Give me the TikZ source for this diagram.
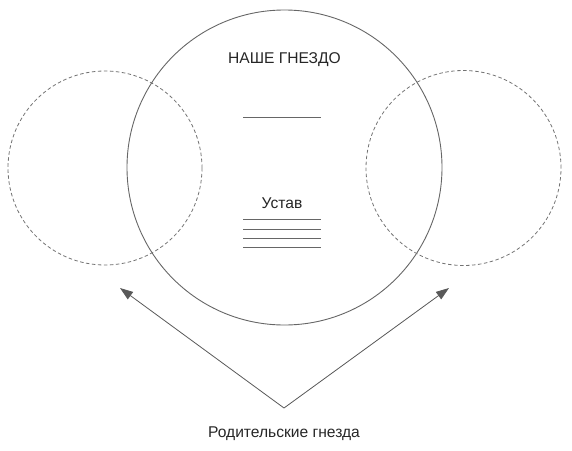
\documentclass[tikz,border=0pt]{standalone}
\usepackage{fontspec}
\setmainfont{Liberation Sans}
\usetikzlibrary{arrows.meta}
\begin{document}
\begin{tikzpicture}[x=1pt,y=-1pt,
  lbl/.style={font=\fontsize{15.6}{18}\selectfont, text=black!85, inner sep=0pt},
  gline/.style={draw=black!60, line width=0.9pt},
  dcirc/.style={draw=black!55, line width=0.8pt, dash pattern=on 3.5pt off 2.5pt},
  arr/.style={draw=black!65, line width=0.8pt, -{Triangle[length=13pt,width=9pt]}}]
\useasboundingbox (0,0) rectangle (572,450);
\node[circle, minimum size=315pt, inner sep=0pt, gline] (nest) at (284.5,167.5) {};
\node[circle, minimum size=194pt, inner sep=0pt, dcirc] (left) at (105,168) {};
\node[circle, minimum size=195pt, inner sep=0pt, dcirc] (right) at (463.5,168) {};
\node[lbl] (title) at (284.5,60) {НАШЕ ГНЕЗДО};
\coordinate (t1) at (243,117); \coordinate (t2) at (321,117);
\draw[gline] (t1) -- (t2);
\node[lbl] (ustav) at (282,203) {Устав};
\foreach \y [count=\i] in {219.3,229,238.3,247.7}{
  \coordinate (a\i) at (243,\y); \coordinate (b\i) at (321,\y);
  \draw[gline] (a\i) -- (b\i);
}
\coordinate (apex) at (284,408);
\coordinate (ltip) at (120,288);
\coordinate (rtip) at (449,288);
\draw[arr] (apex) -- (ltip);
\draw[arr] (apex) -- (rtip);
\node[lbl] (parents) at (284,434) {Родительские гнезда};
\end{tikzpicture}
\end{document}
